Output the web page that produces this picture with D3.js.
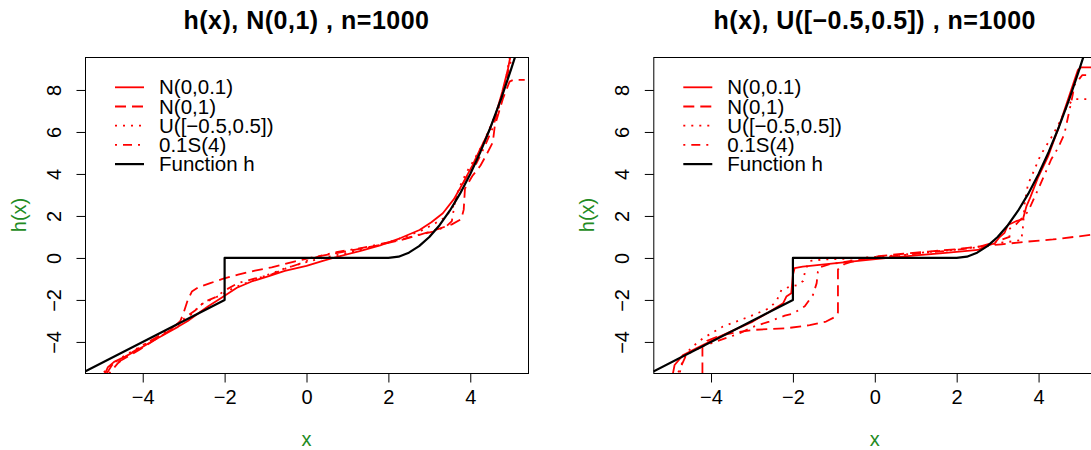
<!DOCTYPE html>
<html>
<head>
<meta charset="utf-8">
<script src="https://cdn.jsdelivr.net/npm/d3@7"></script>
<style>
  body { margin: 0; background: #fff; }
  svg text { font-family: "Liberation Sans", Arial, sans-serif; }
</style>
</head>
<body>
<svg id="chart" width="1091" height="450"></svg>
<script>
// Function h.
const hX = [-5.41, -2, -2, 2, 2.25, 2.5, 2.75, 3, 3.25, 3.5, 3.75, 4, 4.25, 4.5, 4.75, 5, 5.1];
const hY = [-5.41, -2, 0, 0, 0.06, 0.25, 0.56, 1, 1.56, 2.25, 3.06, 4, 5.06, 6.25, 7.56, 9, 9.61];

// Left panel: N(0,1) errors.
const leftSolid = [[-4.92,-5.5],[-4.85,-5.2],[-4.7,-4.95],[-4.43,-4.7],[-4.1,-4.35],[-3.78,-3.98],[-3.45,-3.62],[-3.13,-3.27],[-2.9,-3.0],[-2.64,-2.63],[-2.4,-2.3],[-2.16,-2.0],[-2.0,-1.8],[-1.7,-1.42],[-1.34,-1.12],[-0.9,-0.85],[-0.53,-0.62],[0,-0.38],[0.4,-0.14],[0.8,0.08],[1.3,0.33],[1.8,0.6],[2.3,0.95],[2.76,1.33],[3.05,1.7],[3.33,2.13],[3.6,2.8],[3.82,3.56],[4.05,4.4],[4.23,5.14],[4.45,6.0],[4.63,6.89],[4.78,7.9],[4.92,9.0],[4.98,9.6]];
const leftDashed = [[-4.88,-5.5],[-4.75,-5.1],[-4.5,-4.85],[-4.1,-4.4],[-3.7,-3.9],[-3.3,-3.4],[-3.08,-3.0],[-3.0,-2.6],[-2.9,-2.0],[-2.8,-1.6],[-2.64,-1.4],[-2.35,-1.2],[-2.05,-1.0],[-1.67,-0.8],[-1.26,-0.6],[-0.85,-0.45],[-0.3,-0.17],[0.2,0.05],[0.65,0.2],[1.2,0.4],[1.79,0.62],[2.3,0.85],[2.76,1.1],[3.25,1.4],[3.55,1.6],[3.78,1.85],[3.84,2.3],[3.87,3.3],[4.05,3.9],[4.25,4.4],[4.39,4.9],[4.55,5.5],[4.6,6.3],[4.8,7.6],[4.96,8.4],[5.05,8.48],[5.33,8.48]];
const leftDotted = [[-4.95,-5.45],[-4.7,-5.0],[-4.4,-4.6],[-4.0,-4.15],[-3.6,-3.72],[-3.2,-3.3],[-2.9,-2.85],[-2.56,-2.2],[-2.3,-1.95],[-2.07,-1.75],[-1.8,-1.45],[-1.59,-1.28],[-1.18,-0.97],[-0.8,-0.7],[-0.53,-0.5],[-0.1,-0.25],[0.4,0.0],[0.9,0.2],[1.4,0.42],[1.9,0.68],[2.4,1.0],[2.8,1.3],[3.1,1.6],[3.4,1.95],[3.6,2.5],[3.72,3.3],[3.9,4.05],[4.1,4.7],[4.3,5.4],[4.5,6.3],[4.7,7.25],[4.85,8.3],[4.97,9.6]];
const leftDotdash = [[-4.82,-5.5],[-4.6,-5.0],[-4.3,-4.55],[-3.9,-4.05],[-3.5,-3.6],[-3.15,-3.15],[-2.9,-2.75],[-2.72,-2.5],[-2.5,-2.1],[-2.2,-1.85],[-2.0,-1.55],[-1.67,-1.2],[-1.3,-1.0],[-0.85,-0.78],[-0.5,-0.5],[-0.2,-0.3],[0.3,0.08],[0.73,0.28],[1.3,0.46],[1.9,0.7],[2.4,0.92],[2.68,1.08],[3.09,1.25],[3.41,1.5],[3.55,1.75],[3.62,2.6],[3.7,3.1],[3.92,3.9],[4.15,4.5],[4.35,5.3],[4.55,6.2],[4.72,7.3],[4.88,8.5],[5.02,9.6]];

// Right panel: U([-0.5,0.5]) errors.
const rightSolid = [[-4.93,-5.5],[-4.89,-5.1],[-4.68,-4.62],[-4.36,-4.3],[-4.1,-4.05],[-3.79,-3.75],[-3.4,-3.4],[-2.98,-3.03],[-2.6,-2.6],[-2.24,-2.16],[-2.16,-1.84],[-2.04,-1.68],[-2.0,-0.81],[-1.96,-0.49],[-1.76,-0.41],[-0.94,-0.25],[0.2,-0.02],[1.0,0.12],[1.8,0.25],[2.52,0.38],[2.68,0.54],[2.93,0.7],[3.05,1.0],[3.17,1.2],[3.25,1.57],[3.45,1.75],[3.62,1.85],[3.7,2.44],[3.8,2.9],[3.98,3.8],[4.23,4.82],[4.47,6.1],[4.71,7.5],[4.96,8.95],[5.04,9.08],[5.41,9.08]];
const rightDashed = [[-4.21,-5.5],[-4.21,-4.22],[-4.1,-3.95],[-3.79,-3.7],[-3.4,-3.55],[-2.98,-3.43],[-2.5,-3.38],[-2.16,-3.35],[-1.59,-3.2],[-1.19,-3.03],[-0.98,-2.82],[-0.9,-2.6],[-0.9,-0.55],[-0.75,-0.3],[-0.54,-0.17],[0.08,0.08],[0.7,0.2],[1.3,0.3],[2.0,0.42],[2.52,0.54],[3.1,0.65],[3.74,0.78],[4.35,0.88],[5.41,1.13]];
const rightDotted = [[-4.76,-5.45],[-4.7,-4.9],[-4.5,-4.3],[-4.2,-3.83],[-3.71,-3.27],[-3.06,-2.79],[-2.58,-2.4],[-2.4,-2.05],[-2.28,-1.52],[-2.08,-1.37],[-1.9,-1.3],[-1.75,-1.1],[-1.7,-0.6],[-1.6,-0.15],[-1.3,-0.08],[-0.5,-0.02],[0.5,0.12],[1.3,0.28],[2.0,0.4],[2.6,0.55],[3.0,0.7],[3.4,0.8],[3.58,0.85],[3.62,1.5],[3.66,2.6],[3.74,3.5],[3.86,4.03],[4.05,4.9],[4.35,5.86],[4.55,6.6],[4.71,7.29],[4.88,7.56],[5.41,7.56]];
const rightDotdash = [[-4.8,-5.45],[-4.6,-4.6],[-4.2,-4.2],[-3.87,-3.98],[-3.3,-3.59],[-3.0,-3.3],[-2.58,-3.03],[-2.2,-2.75],[-2.0,-2.65],[-1.71,-2.3],[-1.51,-1.76],[-1.42,-1.2],[-1.39,-0.65],[-1.35,-0.45],[-1.1,-0.3],[-0.5,-0.12],[0.3,0.05],[1.0,0.2],[1.8,0.35],[2.5,0.5],[3.0,0.8],[3.29,1.0],[3.3,1.4],[3.45,1.6],[3.74,2.2],[4.02,3.4],[4.31,4.7],[4.47,5.22],[4.63,5.9],[4.8,7.44],[4.88,8.24],[5.07,8.71],[5.41,8.71]];

const titles = ['h(x), N(0,1) , n=1000', 'h(x), U([\u22120.5,0.5]) , n=1000'];
const legendLabels = ['N(0,0.1)', 'N(0,1)', 'U([\u22120.5,0.5])', '0.1S(4)', 'Function h'];
const xTicks = [-4, -2, 0, 2, 4];
const yTicks = [-4, -2, 0, 2, 4, 6, 8];

const dashes = [null, '11,6', '2,6', '2,6,9,6', null];
const colours = ['#ff0000', '#ff0000', '#ff0000', '#ff0000', '#000000'];
const green = '#228b22';

const chart = d3.select('#chart');
chart.append('rect').attr('width', 1091).attr('height', 450).attr('fill', '#fff');

const hLine = hX.map((x, i) => [x, hY[i]]);

function drawPanel(idx, left, series) {
  const x = d3.scaleLinear().domain([-5.41, 5.41]).range([left, left + 443]);
  const y = d3.scaleLinear().domain([-5.48, 9.57]).range([373, 57]);
  const g = chart.append('g');

  g.append('clipPath').attr('id', 'clip' + idx)
    .append('rect').attr('x', left).attr('y', 57).attr('width', 443).attr('height', 316);

  const line = d3.line().x(d => x(d[0])).y(d => y(d[1]));
  const plot = g.append('g').attr('clip-path', `url(#clip${idx})`);
  series.forEach((s, i) => {
    plot.append('path')
      .attr('d', line(s))
      .attr('fill', 'none')
      .attr('stroke', colours[i])
      .attr('stroke-width', i === 4 ? 2.2 : 1.8)
      .attr('stroke-dasharray', dashes[i])
      .attr('stroke-linejoin', 'round');
  });

  // box
  g.append('rect')
    .attr('x', left + 0.5).attr('y', 57.5).attr('width', 443).attr('height', 316)
    .attr('fill', 'none').attr('stroke', '#000').attr('stroke-width', 1);

  const xAxis = d3.axisBottom(x).tickValues(xTicks).tickSize(9).tickPadding(7);
  const gx = g.append('g').attr('transform', 'translate(0,373.5)').call(xAxis);
  gx.select('.domain').remove();
  gx.selectAll('.tick line').attr('stroke', '#000');
  gx.selectAll('.tick text').attr('font-size', 20).attr('fill', '#000')
    .attr('font-family', '"Liberation Sans", Arial, sans-serif');

  const yAxis = d3.axisLeft(y).tickValues(yTicks).tickSize(9).tickFormat(d3.format('d'));
  const gy = g.append('g').attr('transform', `translate(${left + 0.5},0)`).call(yAxis);
  gy.select('.domain').remove();
  gy.selectAll('.tick line').attr('stroke', '#000');
  gy.selectAll('.tick text')
    .attr('font-size', 20).attr('fill', '#000')
    .attr('font-family', '"Liberation Sans", Arial, sans-serif')
    .attr('x', null).attr('dy', null)
    .attr('text-anchor', 'middle')
    .attr('transform', 'translate(-25,0) rotate(-90)');

  // titles and axis labels
  g.append('text').attr('x', left + 221.5).attr('y', 29)
    .attr('text-anchor', 'middle').attr('font-size', 25).attr('font-weight', 'bold')
    .attr('letter-spacing', 0.5)
    .text(titles[idx]);
  g.append('text').attr('x', left + 221.5).attr('y', 446)
    .attr('text-anchor', 'middle').attr('font-size', 20).attr('fill', green).text('x');
  g.append('text')
    .attr('transform', `translate(${left - 59},215) rotate(-90)`)
    .attr('text-anchor', 'middle').attr('font-size', 20).attr('fill', green).text('h(x)');

  // legend
  const lg = g.append('g');
  legendLabels.forEach((lab, i) => {
    const ry = 87.3 + i * 19.2;
    lg.append('line')
      .attr('x1', left + 30).attr('x2', left + 59).attr('y1', ry).attr('y2', ry)
      .attr('stroke', colours[i]).attr('stroke-width', i === 4 ? 2.2 : 1.8)
      .attr('stroke-dasharray', dashes[i]);
    lg.append('text').attr('x', left + 74).attr('y', ry + 7)
      .attr('font-size', 20.5).text(lab);
  });
}

drawPanel(0, 85, [leftSolid, leftDashed, leftDotted, leftDotdash, hLine]);
drawPanel(1, 653.3, [rightSolid, rightDashed, rightDotted, rightDotdash, hLine]);
</script>
</body>
</html>
